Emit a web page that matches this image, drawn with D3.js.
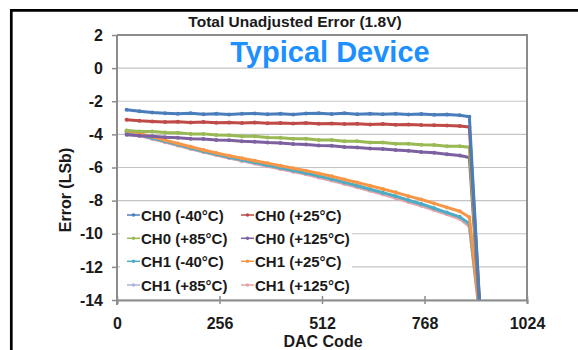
<!DOCTYPE html>
<html><head><meta charset="utf-8">
<script src="https://cdn.jsdelivr.net/npm/d3@7"></script>
<style>
html,body{margin:0;padding:0;background:#fff;}
svg{display:block;font-family:"Liberation Sans",Arial,sans-serif;}
</style></head>
<body>
<svg id="chart" width="578" height="350"></svg>
<script>
// ---- data ----
const codes = [24,56,88,120,152,184,216,248,280,312,344,376,408,440,472,504,536,568,600,632,664,696,728,760,792,824,856,880,906];
const ch0m40  = [-2.52,-2.6,-2.68,-2.72,-2.76,-2.73,-2.78,-2.75,-2.8,-2.76,-2.74,-2.79,-2.75,-2.8,-2.74,-2.72,-2.77,-2.73,-2.78,-2.75,-2.79,-2.76,-2.8,-2.77,-2.82,-2.8,-2.85,-2.93,-14.3];
const ch0p25  = [-3.12,-3.18,-3.22,-3.26,-3.24,-3.28,-3.26,-3.3,-3.28,-3.31,-3.29,-3.33,-3.31,-3.34,-3.32,-3.36,-3.34,-3.38,-3.36,-3.4,-3.38,-3.42,-3.4,-3.44,-3.45,-3.47,-3.5,-3.55,-14.4];
const ch0p85  = [-3.76,-3.82,-3.83,-3.89,-3.9,-3.97,-3.97,-4.04,-4.05,-4.11,-4.12,-4.19,-4.2,-4.26,-4.27,-4.34,-4.34,-4.41,-4.42,-4.49,-4.49,-4.56,-4.57,-4.63,-4.64,-4.71,-4.72,-4.78,-14.5];
const ch0p125 = [-4.02,-4.08,-4.12,-4.18,-4.2,-4.26,-4.28,-4.34,-4.36,-4.41,-4.44,-4.49,-4.52,-4.58,-4.61,-4.67,-4.69,-4.76,-4.79,-4.85,-4.89,-4.95,-4.99,-5.06,-5.11,-5.2,-5.28,-5.4,-14.6];
const ch1m40  = [-3.85,-4.02,-4.22,-4.42,-4.62,-4.82,-5.02,-5.2,-5.38,-5.54,-5.7,-5.86,-6.02,-6.18,-6.34,-6.52,-6.7,-6.9,-7.1,-7.31,-7.52,-7.73,-7.98,-8.2,-8.46,-8.72,-8.98,-9.4,-14.7];
const ch1p25  = [-3.78,-3.95,-4.15,-4.35,-4.55,-4.75,-4.94,-5.12,-5.29,-5.44,-5.59,-5.74,-5.89,-6.04,-6.19,-6.36,-6.53,-6.72,-6.91,-7.1,-7.3,-7.5,-7.73,-7.93,-8.17,-8.41,-8.64,-9.0,-14.8];
const ch1p85  = [-3.88,-4.05,-4.25,-4.45,-4.65,-4.85,-5.05,-5.23,-5.41,-5.57,-5.73,-5.9,-6.06,-6.22,-6.38,-6.56,-6.75,-6.95,-7.15,-7.36,-7.57,-7.79,-8.03,-8.26,-8.52,-8.78,-9.05,-9.48,-14.9];
const ch1p125 = [-3.9,-4.07,-4.27,-4.47,-4.67,-4.87,-5.07,-5.25,-5.43,-5.6,-5.76,-5.93,-6.09,-6.25,-6.41,-6.6,-6.79,-6.99,-7.19,-7.4,-7.62,-7.84,-8.08,-8.31,-8.57,-8.83,-9.1,-9.55,-15.0];
const seriesNames = ["CH0 (-40°C)","CH0 (+25°C)","CH0 (+85°C)","CH0 (+125°C)","CH1 (-40°C)","CH1 (+25°C)","CH1 (+85°C)","CH1 (+125°C)"];
const seriesValues = [ch0m40,ch0p25,ch0p85,ch0p125,ch1m40,ch1p25,ch1p85,ch1p125];
const seriesColors = ["#4a7ebb","#be4b48","#98b954","#7d60a0","#4bacc6","#f79646","#aab4dc","#e6a2aa"];
const drawOrder = [6,7,4,5,3,2,1,0];
const xTicks = [0,256,512,768,1024];
const yTicks = [2,0,-2,-4,-6,-8,-10,-12,-14];

// ---- layout ----
const svg = d3.select("#chart");
const L=117, R=527, T=35, B=300;
const x = d3.scaleLinear().domain([0,1024]).range([L,R]);
const y = d3.scaleLinear().domain([-14,2]).range([B,T]);

// frame
svg.append("path").attr("d","M11.3,350 L11.3,10.3 L578,10.3")
  .attr("fill","none").attr("stroke","#000").attr("stroke-width",2.7);

// gridlines
svg.append("g").selectAll("line").data(yTicks).join("line")
  .attr("x1",L).attr("x2",R).attr("y1",d=>y(d)).attr("y2",d=>y(d))
  .attr("stroke","#c4c4c4").attr("stroke-width",1.2);

// clip
svg.append("clipPath").attr("id","clip").append("rect")
  .attr("x",L).attr("y",T).attr("width",R-L).attr("height",B-T);

// legend background box
const legend = svg.append("g");
legend.append("rect").attr("x",120).attr("y",205).attr("width",232).attr("height",92).attr("fill","#fff");

// series
const line = d3.line().x((d,i)=>x(codes[i])).y(d=>y(d));
const gS = svg.append("g").attr("clip-path","url(#clip)");
drawOrder.forEach(k=>{
  gS.append("path").datum(seriesValues[k]).attr("d",line)
    .attr("fill","none").attr("stroke",seriesColors[k]).attr("stroke-width",3)
    .attr("stroke-linejoin","round");
  gS.append("g").selectAll("circle").data(seriesValues[k]).join("circle")
    .attr("cx",(d,i)=>x(codes[i])).attr("cy",d=>y(d)).attr("r",2)
    .attr("fill",seriesColors[k]);
});

// plot border (top/right)
svg.append("path").attr("d",`M${L},${T} L${R},${T} L${R},${B}`)
  .attr("fill","none").attr("stroke","#8c8c8c").attr("stroke-width",2);

// axes
const fmt = d => String(d);
const yAxis = d3.axisLeft(y).tickValues(yTicks).tickSize(5).tickPadding(9).tickFormat(fmt);
const gy = svg.append("g").attr("transform",`translate(${L},0)`).call(yAxis);
const xAxis = d3.axisBottom(x).tickValues(xTicks).tickSize(4).tickPadding(14).tickFormat(fmt);
const gx = svg.append("g").attr("transform",`translate(0,${B})`).call(xAxis);
gx.selectAll(".tick line").attr("y1",-4);
[gx,gy].forEach(g=>{
  g.select(".domain").attr("stroke","#8c8c8c").attr("stroke-width",2);
  g.selectAll(".tick line").attr("stroke","#8c8c8c").attr("stroke-width",1.5);
  g.selectAll("text").attr("fill","#1a1a1a").attr("font-size",16).attr("font-weight","bold")
    .attr("font-family","'Liberation Sans',Arial,sans-serif");
});
gy.select(".domain").attr("d",`M0,${T}V${B+5}`);

// titles
svg.append("text").attr("x",295).attr("y",27).attr("text-anchor","middle")
  .attr("font-size",15.5).attr("font-weight","bold").attr("fill","#1a1a1a")
  .text("Total Unadjusted Error (1.8V)");
svg.append("text").attr("x",330).attr("y",62).attr("text-anchor","middle")
  .attr("font-size",29).attr("font-weight","bold").attr("fill","#1e8fff")
  .text("Typical Device");
svg.append("text").attr("transform","translate(71,190) rotate(-90)").attr("text-anchor","middle")
  .attr("font-size",16).attr("font-weight","bold").attr("fill","#1a1a1a")
  .text("Error (LSb)");
svg.append("text").attr("x",323).attr("y",347).attr("text-anchor","middle")
  .attr("font-size",16).attr("font-weight","bold").attr("fill","#1a1a1a")
  .text("DAC Code");

// legend items
const rowY = [215,238.3,261.3,285];
seriesNames.forEach((name,k)=>{
  const col = k%2, row = Math.floor(k/2);
  const lx = col===0 ? 127 : 241;
  const cy = rowY[row];
  legend.append("line").attr("x1",lx).attr("x2",lx+13).attr("y1",cy).attr("y2",cy)
    .attr("stroke",seriesColors[k]).attr("stroke-width",1.5);
  legend.append("circle").attr("cx",lx+6.5).attr("cy",cy).attr("r",1.8).attr("fill",seriesColors[k]);
  legend.append("text").attr("x",lx+14).attr("y",cy+5.5)
    .attr("font-size",15).attr("font-weight","bold").attr("fill","#1a1a1a").text(name);
});
</script>
</body></html>
